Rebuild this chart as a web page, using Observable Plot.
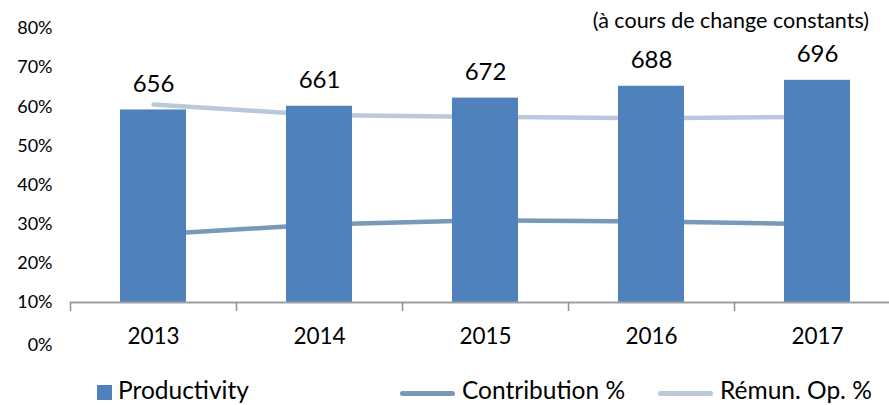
<!DOCTYPE html>
<html>
<head>
<meta charset="utf-8">
<script src="https://cdn.jsdelivr.net/npm/d3@7"></script>
<script src="https://cdn.jsdelivr.net/npm/@observablehq/plot@0.6"></script>
<style>
  html, body { margin: 0; padding: 0; background: #fff; }
  #wrap { position: relative; width: 889px; height: 405px; overflow: hidden; font-family: Lato, "Open Sans", sans-serif; color: #000; }
  #subtitle { position: absolute; right: 20px; top: 7px; font-size: 21.5px; white-space: nowrap; }
  .leg { position: absolute; top: 375px; font-size: 24.5px; white-space: nowrap; display: flex; align-items: center; }
  .sw-box { width: 15px; height: 15px; background: #4F81BD; margin-right: 6px; margin-top: 6px; }
  .sw-line { width: 55px; height: 5px; border-radius: 3px; margin-right: 7px; margin-top: 8px; }
</style>
</head>
<body>
<div id="wrap">
  <div id="chart"></div>
  <div id="subtitle">(à cours de change constants)</div>
  <div class="leg" style="left:97px"><div class="sw-box"></div>Productivity</div>
  <div class="leg" style="left:400px"><div class="sw-line" style="background:#7899B8"></div>Contribution %</div>
  <div class="leg" style="left:658px"><div class="sw-line" style="background:#B9C9D9"></div>Rémun. Op. %</div>
</div>
<script>
const years = ["2013", "2014", "2015", "2016", "2017"];
const productivity = [656, 661, 672, 688, 696];
const contribution = [0.274, 0.299, 0.310, 0.307, 0.300];
const remun = [0.606, 0.579, 0.574, 0.571, 0.574];
const yTicks = [0.1, 0.2, 0.3, 0.4, 0.5, 0.6, 0.7, 0.8];
const yBottomLabel = [0];
// secondary (hidden) axis for productivity, aligned to 10%..80% of the primary axis
const secDomain = [396, 766];
const secRange = [0.1, 0.8];

const toPrimary = d3.scaleLinear().domain(secDomain).range(secRange);
const pct = d3.format(".0%");

const rows = years.map((year, i) => ({
  year,
  prod: productivity[i],
  prodY: toPrimary(productivity[i]),
  contribution: contribution[i],
  remun: remun[i]
}));

const chart = Plot.plot({
  width: 889,
  height: 372,
  marginLeft: 70,
  marginRight: 0,
  marginTop: 28,
  marginBottom: 70,
  style: { fontFamily: "Lato, 'Open Sans', sans-serif", color: "#000", background: "#fff" },
  x: { domain: years, range: [70, 900], paddingInner: 0.6, paddingOuter: 0.3, label: null },
  y: { domain: [0.1, 0.8], label: null },
  marks: [
    Plot.lineY(rows, { x: "year", y: "remun", stroke: "#B9C9D9", strokeWidth: 4.5, curve: "linear" }),
    Plot.lineY(rows, { x: "year", y: "contribution", stroke: "#7899B8", strokeWidth: 4.5, curve: "linear" }),
    Plot.barY(rows, { x: "year", y1: 0.1, y2: "prodY", fill: "#4F81BD" }),
    Plot.ruleY([0.1], { stroke: "#A0A0A0", strokeWidth: 2 }),
    Plot.axisX({ tickSize: 9, tickFormat: () => "", dx: -83, stroke: "#909090", strokeWidth: 1.5, label: null }),
    Plot.axisX({ tickSize: 0, tickPadding: 26, fontSize: 22.5, fill: "#000", label: null }),
    Plot.axisY({ ticks: yTicks, tickFormat: pct, tickSize: 0, tickPadding: 18, fontSize: 18, fill: "#000", label: null }),
    Plot.text(yBottomLabel, { y: d => d, text: d => pct(d), frameAnchor: "left", dx: -18, dy: 4, textAnchor: "end", fontSize: 18, fill: "#000" }),
    Plot.text(rows, { x: "year", y: "prodY", text: d => String(d.prod), dy: -26, lineAnchor: "middle", fontSize: 24, fill: "#000" })
  ]
});
document.getElementById("chart").appendChild(chart);
</script>
</body>
</html>
